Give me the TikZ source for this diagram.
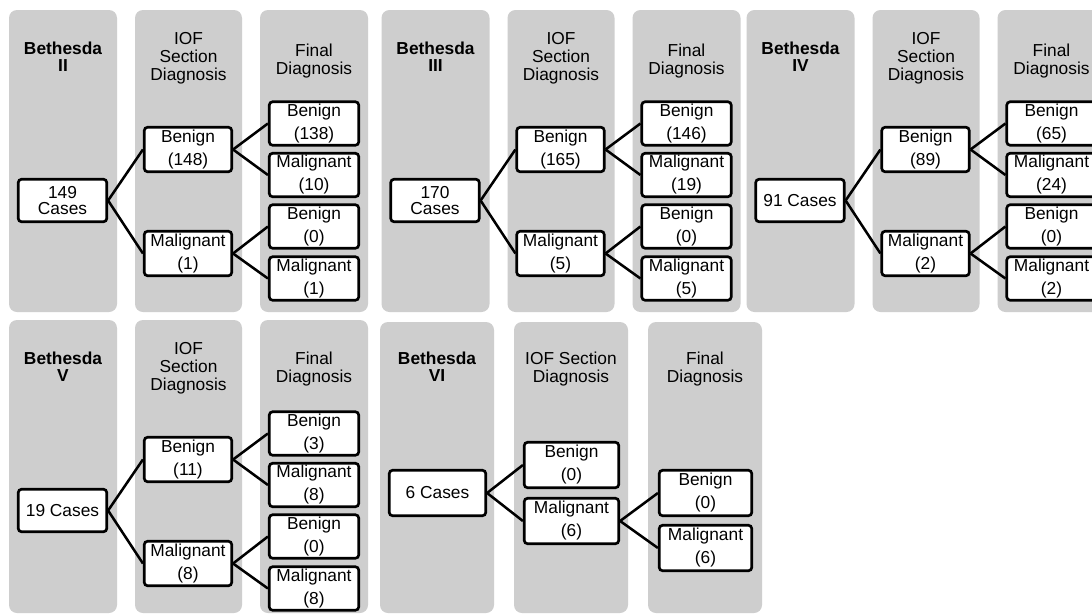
\documentclass[tikz,border=0pt]{standalone}
\usepackage{fontspec}
\setmainfont{Liberation Sans}
\definecolor{colbg}{RGB}{206,206,206}
\begin{document}
\begin{tikzpicture}[x=0.75pt,y=-0.75pt,
  column/.style={fill=colbg, rounded corners=6pt},
  hd/.style={anchor=north, inner sep=0pt, align=center, font=\fontsize{13}{13.5}\selectfont},
  hdb/.style={anchor=north, inner sep=0pt, align=center, font=\fontsize{13}{12.5}\selectfont\bfseries},
  bx/.style={draw, line width=2pt, fill=white, rounded corners=2.5pt, inner sep=0pt, align=center, font=\fontsize{13}{17.25}\selectfont},
  cbox/.style={bx, minimum width=66.4pt, minimum height=31.9pt, font=\fontsize{13}{12}\selectfont},
  ibox/.style={bx, minimum width=65.6pt, minimum height=33.4pt},
  fbox/.style={bx, minimum width=67.1pt, minimum height=32.6pt},
  cboxw/.style={bx, minimum width=72.4pt, minimum height=34.1pt},
  iboxw/.style={bx, minimum width=70.9pt, minimum height=34.1pt},
  fboxw/.style={bx, minimum width=69.4pt, minimum height=34.1pt},
  link/.style={line width=1.9pt},
]
\useasboundingbox (0,0) rectangle (1092,615);
\fill[white] (0,0) rectangle (1092,615);
\clip (0,0) rectangle (1092,615);

% ---------- Panel A : Bethesda II ----------
\begin{scope}
\fill[column] (9,10) rectangle (117,312);
\fill[column] (135,10) rectangle (242,312);
\fill[column] (260,10) rectangle (368,312);
\node[hdb] (a-h1) at (63,41.7) {Bethesda\\II};
\node[hd] (a-h2) at (188.5,31.7) {IOF\\Section\\Diagnosis};
\node[hd] (a-h3) at (314,44) {Final\\Diagnosis};
\node[cbox] (a-c) at (62.5,200.5) {149\\Cases};
\node[ibox] (a-ib) at (188,149.5) {Benign\\(148)};
\node[ibox] (a-im) at (188,253.5) {Malignant\\(1)};
\node[fbox] (a-f1) at (314,123.5) {Benign\\(138)};
\node[fbox] (a-f2) at (314,175) {Malignant\\(10)};
\node[fbox] (a-f3) at (314,226.5) {Benign\\(0)};
\node[fbox] (a-f4) at (314,278.5) {Malignant\\(1)};
\draw[link] (a-c.east) -- (a-ib.west);
\draw[link] (a-c.east) -- (a-im.west);
\draw[link] (a-ib.east) -- (a-f1.west);
\draw[link] (a-ib.east) -- (a-f2.west);
\draw[link] (a-im.east) -- (a-f3.west);
\draw[link] (a-im.east) -- (a-f4.west);
\end{scope}

% ---------- Panel B : Bethesda III ----------
\begin{scope}[shift={(372.5,0)}]
\fill[column] (9,10) rectangle (117,312);
\fill[column] (135,10) rectangle (242,312);
\fill[column] (260,10) rectangle (368,312);
\node[hdb] (b-h1) at (63,41.7) {Bethesda\\III};
\node[hd] (b-h2) at (188.5,31.7) {IOF\\Section\\Diagnosis};
\node[hd] (b-h3) at (314,44) {Final\\Diagnosis};
\node[cbox] (b-c) at (62.5,200.5) {170\\Cases};
\node[ibox] (b-ib) at (188,149.5) {Benign\\(165)};
\node[ibox] (b-im) at (188,253.5) {Malignant\\(5)};
\node[fbox] (b-f1) at (314,123.5) {Benign\\(146)};
\node[fbox] (b-f2) at (314,175) {Malignant\\(19)};
\node[fbox] (b-f3) at (314,226.5) {Benign\\(0)};
\node[fbox] (b-f4) at (314,278.5) {Malignant\\(5)};
\draw[link] (b-c.east) -- (b-ib.west);
\draw[link] (b-c.east) -- (b-im.west);
\draw[link] (b-ib.east) -- (b-f1.west);
\draw[link] (b-ib.east) -- (b-f2.west);
\draw[link] (b-im.east) -- (b-f3.west);
\draw[link] (b-im.east) -- (b-f4.west);
\end{scope}

% ---------- Panel C : Bethesda IV ----------
\begin{scope}[shift={(737.5,0)}]
\fill[column] (9,10) rectangle (117,312);
\fill[column] (135,10) rectangle (242,312);
\fill[column] (260,10) rectangle (368,312);
\node[hdb] (c-h1) at (63,41.7) {Bethesda\\IV};
\node[hd] (c-h2) at (188.5,31.7) {IOF\\Section\\Diagnosis};
\node[hd] (c-h3) at (314,44) {Final\\Diagnosis};
\node[cbox] (c-c) at (62.5,200.5) {91 Cases};
\node[ibox] (c-ib) at (188,149.5) {Benign\\(89)};
\node[ibox] (c-im) at (188,253.5) {Malignant\\(2)};
\node[fbox] (c-f1) at (314,123.5) {Benign\\(65)};
\node[fbox] (c-f2) at (314,175) {Malignant\\(24)};
\node[fbox] (c-f3) at (314,226.5) {Benign\\(0)};
\node[fbox] (c-f4) at (314,278.5) {Malignant\\(2)};
\draw[link] (c-c.east) -- (c-ib.west);
\draw[link] (c-c.east) -- (c-im.west);
\draw[link] (c-ib.east) -- (c-f1.west);
\draw[link] (c-ib.east) -- (c-f2.west);
\draw[link] (c-im.east) -- (c-f3.west);
\draw[link] (c-im.east) -- (c-f4.west);
\end{scope}

% ---------- Panel D : Bethesda V ----------
\begin{scope}[shift={(0,310)}]
\fill[column] (9,10) rectangle (117,303);
\fill[column] (135,10) rectangle (242,303);
\fill[column] (260,10) rectangle (368,303);
\node[hdb] (d-h1) at (63,41.7) {Bethesda\\V};
\node[hd] (d-h2) at (188.5,31.7) {IOF\\Section\\Diagnosis};
\node[hd] (d-h3) at (314,42) {Final\\Diagnosis};
\node[cbox] (d-c) at (62.5,200.5) {19 Cases};
\node[ibox] (d-ib) at (188,149.5) {Benign\\(11)};
\node[ibox] (d-im) at (188,253.5) {Malignant\\(8)};
\node[fbox] (d-f1) at (314,123.5) {Benign\\(3)};
\node[fbox] (d-f2) at (314,175) {Malignant\\(8)};
\node[fbox] (d-f3) at (314,226.5) {Benign\\(0)};
\node[fbox] (d-f4) at (314,278.5) {Malignant\\(8)};
\draw[link] (d-c.east) -- (d-ib.west);
\draw[link] (d-c.east) -- (d-im.west);
\draw[link] (d-ib.east) -- (d-f1.west);
\draw[link] (d-ib.east) -- (d-f2.west);
\draw[link] (d-im.east) -- (d-f3.west);
\draw[link] (d-im.east) -- (d-f4.west);
\end{scope}

% ---------- Panel E : Bethesda VI ----------
\fill[column] (380,322) rectangle (494,613);
\fill[column] (514,322) rectangle (628,613);
\fill[column] (648,322) rectangle (762,613);
\node[hdb] (e-h1) at (437,351.7) {Bethesda\\VI};
\node[hd] (e-h2) at (571,351.7) {IOF Section\\Diagnosis};
\node[hd] (e-h3) at (705,351.7) {Final\\Diagnosis};
\node[cboxw] (e-c) at (437.5,493) {6 Cases};
\node[iboxw] (e-ib) at (571.5,465) {Benign\\(0)};
\node[iboxw] (e-im) at (571.5,521) {Malignant\\(6)};
\node[fboxw] (e-f1) at (705.5,493) {Benign\\(0)};
\node[fboxw] (e-f2) at (705.5,548) {Malignant\\(6)};
\draw[link] (e-c.east) -- (e-ib.west);
\draw[link] (e-c.east) -- (e-im.west);
\draw[link] (e-im.east) -- (e-f1.west);
\draw[link] (e-im.east) -- (e-f2.west);
\end{tikzpicture}
\end{document}
